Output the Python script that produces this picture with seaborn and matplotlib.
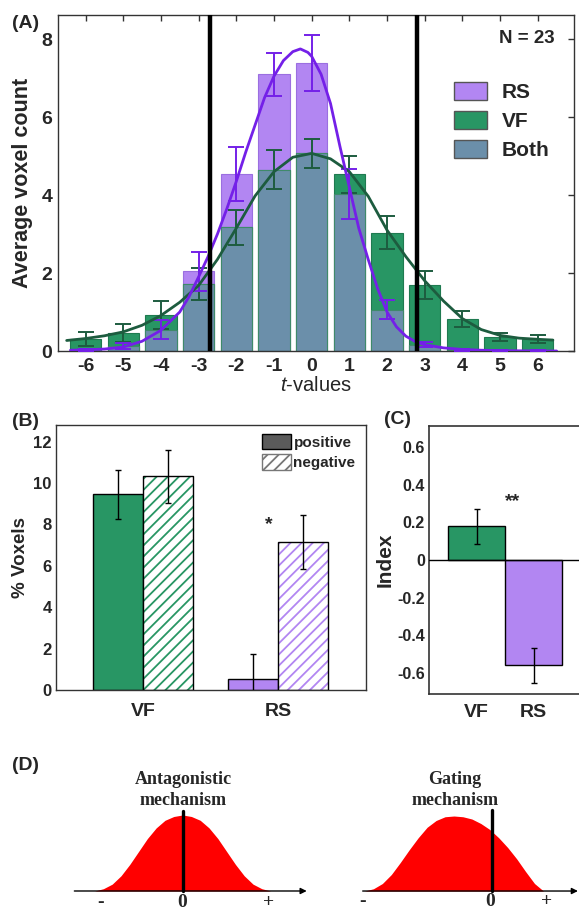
import numpy as np
import pandas as pd
import matplotlib
matplotlib.use("Agg")
import matplotlib.pyplot as plt
from matplotlib.patches import Patch, Rectangle
import seaborn as sns

# ---------------- data ----------------
# Panel A
t_values = [-6, -5, -4, -3, -2, -1, 0, 1, 2, 3, 4, 5, 6]
rs_mean = [0.02, 0.12, 0.55, 2.04, 4.55, 7.10, 7.39, 4.02, 1.06, 0.16, 0.02, 0.01, 0.01]
rs_err = [0.02, 0.08, 0.25, 0.49, 0.69, 0.55, 0.72, 0.64, 0.24, 0.06, 0.02, 0.02, 0.02]
vf_mean = [0.30, 0.46, 0.92, 1.71, 3.18, 4.65, 5.07, 4.53, 3.04, 1.69, 0.82, 0.36, 0.31]
vf_err = [0.18, 0.23, 0.36, 0.41, 0.45, 0.50, 0.38, 0.47, 0.42, 0.36, 0.20, 0.11, 0.10]
both_mean = [0.02, 0.12, 0.55, 1.71, 3.18, 4.65, 5.07, 4.02, 1.06, 0.16, 0.02, 0.01, 0.01]
rs_fit_t = [-6.4, -6.0, -5.5, -5.0, -4.5, -4.0, -3.5, -3.25, -3.0, -2.75, -2.5, -2.25,
            -2.0, -1.75, -1.5, -1.25, -1.0, -0.75, -0.5, -0.3, -0.1, 0.0, 0.25, 0.5,
            0.75, 1.0, 1.25, 1.5, 1.75, 2.0, 2.25, 2.5, 2.75, 3.0, 3.5, 4.0, 4.5, 5.0,
            6.0, 6.5]
rs_fit_y = [0.02, 0.03, 0.05, 0.10, 0.25, 0.53, 1.00, 1.40, 1.90, 2.42, 3.00, 3.65,
            4.35, 5.10, 5.80, 6.50, 7.05, 7.45, 7.68, 7.75, 7.66, 7.56, 7.10, 6.35,
            5.25, 4.20, 3.15, 2.35, 1.60, 1.00, 0.62, 0.38, 0.24, 0.16, 0.08, 0.04,
            0.02, 0.01, 0.00, 0.00]
vf_fit_t = [-6.5, -6.0, -5.5, -5.0, -4.5, -4.0, -3.5, -3.0, -2.5, -2.0, -1.5, -1.0,
            -0.5, 0.0, 0.5, 1.0, 1.5, 2.0, 2.5, 3.0, 3.5, 4.0, 4.5, 5.0, 5.5, 6.0, 6.4]
vf_fit_y = [0.27, 0.32, 0.39, 0.49, 0.66, 0.91, 1.25, 1.68, 2.35, 3.15, 3.98, 4.60,
            4.97, 5.07, 4.93, 4.60, 3.97, 3.10, 2.42, 1.80, 1.28, 0.83, 0.55, 0.40,
            0.33, 0.30, 0.28]
thresholds = [-2.70, 2.80]
n_subjects = 23

# Panel B
groups = ["VF", "RS"]
signs = ["positive", "negative"]
pct_positive = [9.45, 0.53]
pct_negative = [10.33, 7.16]
err_positive = [1.20, 1.19]
err_negative = [1.28, 1.30]

# Panel C
index_vals = [0.178, -0.557]
index_err = [0.093, 0.093]

# Panel D (schematic bell shapes, heights relative to peak)
bell_u = [-1.0, -0.9, -0.8, -0.7, -0.6, -0.5, -0.4, -0.3, -0.2, -0.1, 0.0,
          0.1, 0.2, 0.3, 0.4, 0.5, 0.6, 0.7, 0.8, 0.9, 1.0]
antag_h = [0.0, 0.03, 0.09, 0.20, 0.35, 0.52, 0.69, 0.83, 0.93, 0.98, 1.0,
           0.98, 0.93, 0.83, 0.69, 0.52, 0.35, 0.20, 0.09, 0.03, 0.0]
gating_h = [0.0, 0.03, 0.10, 0.22, 0.38, 0.55, 0.71, 0.85, 0.94, 0.99, 1.0,
            0.99, 0.96, 0.90, 0.82, 0.71, 0.58, 0.43, 0.26, 0.10, 0.0]
antag_zero = 0.0
gating_zero = 0.42

# ---------------- style ----------------
sns.set_style("white")
plt.rcParams["font.family"] = ["Liberation Sans", "DejaVu Sans"]
plt.rcParams["mathtext.fontset"] = "custom"
plt.rcParams["mathtext.it"] = "Liberation Sans:italic"
plt.rcParams["mathtext.rm"] = "Liberation Sans"
plt.rcParams["axes.unicode_minus"] = False
plt.rcParams["hatch.linewidth"] = 1.3

GREEN = "#289664"
PURPLE = "#B286F2"
BOTH = "#6B8FAA"
PURPLE_LINE = "#7420E8"
GREEN_LINE = "#1D5C3F"
SPINE = "#333333"

W, H = 579, 910
fig = plt.figure(figsize=(W / 100, H / 100), dpi=100)


def box(l, t, r, b):
    return [l / W, 1 - b / H, (r - l) / W, (b - t) / H]


# ---------------- Panel A ----------------
axA = fig.add_axes(box(58, 15, 574, 351))
dfA = pd.DataFrame({"t": t_values, "RS": rs_mean, "VF": vf_mean, "Both": both_mean})
sns.barplot(data=dfA, x="t", y="RS", native_scale=True, width=0.83, color=PURPLE,
            saturation=1, edgecolor="#9B6FE0", linewidth=0.8, errorbar=None, ax=axA)
sns.barplot(data=dfA, x="t", y="VF", native_scale=True, width=0.83, color=GREEN,
            saturation=1, edgecolor="#1F7A50", linewidth=0.8, errorbar=None, ax=axA)
sns.barplot(data=dfA, x="t", y="Both", native_scale=True, width=0.83, color=BOTH,
            saturation=1, edgecolor="#3F8A6A", linewidth=0.8, errorbar=None, ax=axA)
axA.errorbar(t_values, vf_mean, yerr=vf_err, fmt="none", ecolor=GREEN_LINE,
             elinewidth=1.4, capsize=6, capthick=1.4, zorder=4)
axA.errorbar(t_values, rs_mean, yerr=rs_err, fmt="none", ecolor=PURPLE_LINE,
             elinewidth=1.4, capsize=6, capthick=1.4, zorder=4)
sns.lineplot(x=vf_fit_t, y=vf_fit_y, color=GREEN_LINE, lw=2.0, ax=axA, zorder=5)
sns.lineplot(x=rs_fit_t, y=rs_fit_y, color=PURPLE_LINE, lw=2.0, ax=axA, zorder=6)
for th in thresholds:
    axA.axvline(th, color="black", lw=3.2, zorder=7)
axA.set_xlim(-6.73, 6.96)
axA.set_ylim(0, 8.62)
axA.set_xticks(t_values)
axA.set_xticklabels([str(t) for t in t_values], fontsize=14, fontweight="bold")
axA.set_yticks([0, 2, 4, 6, 8])
axA.set_yticklabels(["0", "2", "4", "6", "8"], fontsize=14, fontweight="bold")
axA.tick_params(direction="in", top=True, right=True, length=4, width=1,
                color=SPINE, pad=4)
axA.tick_params(axis="x", pad=5)
axA.set_xlabel(r"$t$-values", fontsize=14.5, labelpad=1)
axA.set_ylabel("Average voxel count", fontsize=15.5, fontweight="bold", labelpad=6)
for s in axA.spines.values():
    s.set_color(SPINE)
    s.set_linewidth(1)
axA.text(0.962, 0.929, f"N = {n_subjects}", transform=axA.transAxes, ha="right",
         va="center", fontsize=13.5, fontweight="bold")
axA.legend(handles=[Patch(facecolor=PURPLE, edgecolor="#555555"),
                    Patch(facecolor=GREEN, edgecolor="#555555"),
                    Patch(facecolor=BOTH, edgecolor="#555555")],
           labels=["RS", "VF", "Both"], loc="upper left",
           bbox_to_anchor=(0.767, 0.80), frameon=False, borderpad=0,
           borderaxespad=0, handlelength=1.6, handleheight=0.96,
           handletextpad=0.7, labelspacing=0.42,
           prop={"size": 15, "weight": "bold"})
fig.text(12 / W, 1 - 23 / H, "(A)", ha="left", va="center", fontsize=14,
         fontweight="bold")

# ---------------- Panel B ----------------
axB = fig.add_axes(box(56, 425, 366, 690))
dfB = pd.DataFrame({"group": groups * 2,
                    "sign": [signs[0]] * 2 + [signs[1]] * 2,
                    "pct": pct_positive + pct_negative,
                    "err": err_positive + err_negative})
sns.barplot(data=dfB, x="group", y="pct", hue="sign", order=groups, hue_order=signs,
            palette=["#ffffff", "#ffffff"], width=0.74, saturation=1,
            errorbar=None, legend=False, ax=axB)
group_colors = {"VF": GREEN, "RS": PURPLE}
for p in list(axB.patches):
    cx = p.get_x() + p.get_width() / 2
    gi = int(round(cx))
    g = groups[gi]
    sign = signs[0] if cx < gi else signs[1]
    row = dfB[(dfB.group == g) & (dfB.sign == sign)].iloc[0]
    if sign == "positive":
        p.set_facecolor(group_colors[g])
        p.set_edgecolor("black")
        p.set_linewidth(1)
    else:
        p.set_facecolor("white")
        p.set_hatch("///")
        p.set_edgecolor(group_colors[g])
        p.set_linewidth(0)
        axB.add_patch(Rectangle((p.get_x(), p.get_y()), p.get_width(), p.get_height(),
                                fill=False, edgecolor="black", lw=1, zorder=3))
    axB.errorbar([cx], [row.pct], yerr=[row.err], fmt="none", ecolor="black",
                 elinewidth=1, capsize=2.5, capthick=1, zorder=4)
axB.text(0.93, 8.0, "*", ha="center", va="center", fontsize=14, fontweight="bold")
axB.set_xlim(-0.644, 1.652)
axB.set_ylim(0, 12.8)
axB.set_yticks([0, 2, 4, 6, 8, 10, 12])
axB.set_yticklabels(["0", "2", "4", "6", "8", "10", "12"], fontsize=12,
                    fontweight="bold")
axB.set_xticks([0, 1])
axB.set_xticklabels(groups, fontsize=14, fontweight="bold")
axB.tick_params(axis="y", length=0, pad=3)
axB.tick_params(axis="x", length=0, pad=9)
axB.set_xlabel("")
axB.set_ylabel("% Voxels", fontsize=13.5, fontweight="bold", labelpad=3)
for s in axB.spines.values():
    s.set_color(SPINE)
    s.set_linewidth(1)
axB.legend(handles=[Patch(facecolor="#5b5b5b", edgecolor="black"),
                    Patch(facecolor="white", edgecolor="#777777", hatch="///")],
           labels=signs, loc="upper left", bbox_to_anchor=(0.665, 0.966),
           frameon=False, borderpad=0, borderaxespad=0, handlelength=1.9,
           handleheight=1.15, handletextpad=0.15, labelspacing=0.3,
           prop={"size": 11, "weight": "bold"})
fig.text(12 / W, 1 - 421 / H, "(B)", ha="left", va="center", fontsize=14,
         fontweight="bold")

# ---------------- Panel C ----------------
axC = fig.add_axes(box(429, 426, 579, 694))
sns.barplot(x=groups, y=index_vals, hue=groups, palette=[GREEN, PURPLE],
            width=1.0, saturation=1, edgecolor="black", linewidth=1,
            errorbar=None, legend=False, ax=axC)
for p in list(axC.patches):
    cx = p.get_x() + p.get_width() / 2
    gi = int(round(cx))
    axC.errorbar([cx], [index_vals[gi]], yerr=[index_err[gi]], fmt="none",
                 ecolor="black", elinewidth=1, capsize=2.5, capthick=1, zorder=4)
axC.axhline(0, color="black", lw=1, zorder=3)
axC.text(0.64, 0.31, "**", ha="center", va="center", fontsize=14, fontweight="bold")
axC.set_xlim(-0.84, 1.80)
axC.set_ylim(-0.71, 0.71)
cticks = [-0.6, -0.4, -0.2, 0, 0.2, 0.4, 0.6]
axC.set_yticks(cticks)
axC.set_yticklabels(["-0.6", "-0.4", "-0.2", "0", "0.2", "0.4", "0.6"], fontsize=11.5,
                    fontweight="bold")
axC.set_xticks([0, 1])
axC.set_xticklabels(groups, fontsize=14, fontweight="bold")
axC.tick_params(axis="y", length=0, pad=3)
axC.tick_params(axis="x", length=0, pad=7)
axC.set_ylabel("Index", fontsize=15, fontweight="bold", labelpad=2)
for s in axC.spines.values():
    s.set_color(SPINE)
    s.set_linewidth(1.2)
axC.spines["right"].set_visible(False)
fig.text(384 / W, 1 - 420 / H, "(C)", ha="left", va="center", fontsize=14,
         fontweight="bold")

# ---------------- Panel D ----------------
SERIF = ["Liberation Serif", "DejaVu Serif"]


def schematic(rect, xlim, ylim, heights, zero_x, line_h, axis_span, tick_pos, title,
              title_x):
    ax = fig.add_axes(box(*rect))
    ax.fill_between(bell_u, 0, heights, color="#FF0000", lw=0)
    ax.plot([zero_x, zero_x], [0, line_h], color="black", lw=2.4)
    ax.annotate("", xy=(axis_span[1], 0), xytext=(axis_span[0], 0),
                arrowprops=dict(arrowstyle="-|>", color="black", lw=1,
                                mutation_scale=9, shrinkA=0, shrinkB=0))
    for lab, xp in zip(["-", "0", "+"], tick_pos):
        ax.text(xp, -0.145, lab, ha="center", va="center", fontsize=14,
                fontweight="bold", family=SERIF)
    ax.set_xlim(*xlim)
    ax.set_ylim(*ylim)
    ax.axis("off")
    fig.text(title_x / W, 1 - 790 / H, title, ha="center", va="center",
             fontsize=13, fontweight="bold", family=SERIF, linespacing=1.3)
    return ax


schematic((60, 780, 320, 910), (-1.393, 1.561), (-0.25, 1.46), antag_h, antag_zero,
          1.05, (-1.23, 1.41), (-0.93, 0.0, 0.98), "Antagonistic\nmechanism", 183)
schematic((355, 780, 579, 910), (-1.106, 1.397), (-0.253, 1.48), gating_h, gating_zero,
          1.08, (-1.02, 1.385), (-1.02, 0.40, 1.04), "Gating\nmechanism", 455)
fig.text(12 / W, 1 - 766 / H, "(D)", ha="left", va="center", fontsize=14,
         fontweight="bold")

fig.savefig("out.png", dpi=100)
